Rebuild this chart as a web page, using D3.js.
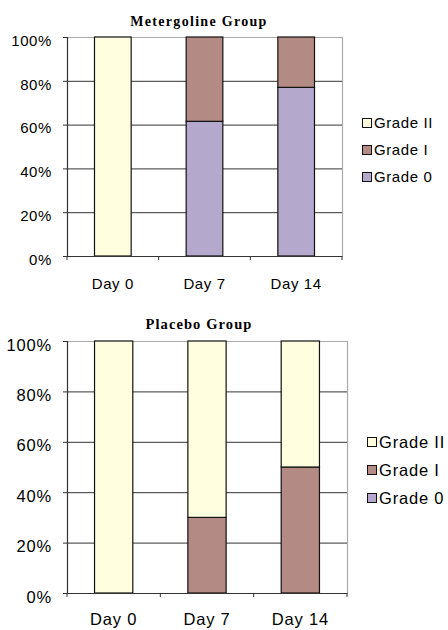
<!DOCTYPE html>
<html>
<head>
<meta charset="utf-8">
<script src="https://cdn.jsdelivr.net/npm/d3@7"></script>
<style>
  body { margin: 0; background: #fff; }
  .lbl { font-family: "Liberation Sans", Arial, sans-serif; fill: #000; }
  .ttl { font-family: "Liberation Serif", "Times New Roman", serif; font-weight: bold; }
</style>
</head>
<body>
<svg id="chart" width="448" height="630"></svg>
<script>
// data
var days = ["Day 0", "Day 7", "Day 14"];
var grades = ["Grade 0", "Grade I", "Grade II"];
var gradeColors = ["#b4a9cd", "#b38b84", "#ffffe0"];
var yTicks = [0, 20, 40, 60, 80, 100];

// percent of patients per grade, per day
var meterGrade0 = [0, 61.5, 77];
var meterGrade1 = [0, 38.5, 23];
var meterGrade2 = [100, 0, 0];

var placeboGrade0 = [0, 0, 0];
var placeboGrade1 = [0, 30, 50];
var placeboGrade2 = [100, 70, 50];

var svg = d3.select("#chart");
var color = d3.scaleOrdinal().domain(grades).range(gradeColors);

function drawChart(opt) {
  var g = svg.append("g");
  var rows = days.map(function(d, i) {
    return { day: d, "Grade 0": opt.s0[i], "Grade I": opt.s1[i], "Grade II": opt.s2[i] };
  });
  var stack = d3.stack().keys(grades)(rows);

  var x = d3.scaleBand().domain(days).range([opt.left, opt.right]).padding(0);
  var y = d3.scaleLinear().domain([0, 100]).range([opt.bottom, opt.top]);
  var bw = x.bandwidth() * opt.barFrac;

  // gridlines
  g.selectAll(".grid").data(yTicks.slice(1, -1)).enter().append("line")
    .attr("x1", opt.left).attr("x2", opt.right)
    .attr("y1", function(d) { return y(d) + 0.5; })
    .attr("y2", function(d) { return y(d) + 0.5; })
    .attr("stroke", "#333").attr("stroke-width", 1);

  // top + right frame
  g.append("path")
    .attr("d", "M" + opt.left + "," + (opt.top + 0.5) + "H" + (opt.right + 0.5) + "V" + opt.bottom)
    .attr("fill", "none").attr("stroke", "#aaa").attr("stroke-width", 1.2);

  // bars
  g.selectAll(".layer").data(stack).enter().append("g")
    .attr("fill", function(d) { return color(d.key); })
    .selectAll("rect").data(function(d) { return d; }).enter().append("rect")
    .filter(function(d) { return d[1] - d[0] > 0; })
    .attr("x", function(d) { return x(d.data.day) + (x.bandwidth() - bw) / 2; })
    .attr("y", function(d) { return y(d[1]); })
    .attr("width", bw)
    .attr("height", function(d) { return y(d[0]) - y(d[1]); })
    .attr("stroke", "#111").attr("stroke-width", 1.2);

  // y axis
  var ya = g.append("g").attr("transform", "translate(" + opt.left + ",0)")
    .call(d3.axisLeft(y).tickValues(yTicks).tickSize(4).tickPadding(11)
      .tickFormat(function(d) { return d + "%"; }));
  ya.select(".domain").attr("stroke", "#333").attr("stroke-width", 1.2);
  ya.selectAll(".tick line").attr("stroke", "#333");
  ya.selectAll("text").attr("class", "lbl").style("font-size", opt.fs + "px")
    .style("letter-spacing", opt.ls + "px").attr("dy", opt.yDy);

  // x axis
  var xa = g.append("g").attr("transform", "translate(0," + opt.bottom + ")")
    .call(d3.axisBottom(x).tickSize(0).tickPadding(opt.xPad));
  xa.select(".domain").attr("stroke", "#333").attr("stroke-width", 1.2);
  xa.selectAll("text").attr("class", "lbl").style("font-size", opt.fs + "px")
    .style("letter-spacing", opt.ls + "px");
  var edges = days.map(function(d) { return x(d); }).concat([opt.right]);
  xa.selectAll(".edge").data(edges).enter().append("line")
    .attr("x1", function(d) { return d; }).attr("x2", function(d) { return d; })
    .attr("y1", 0).attr("y2", 4).attr("stroke", "#333");

  // title
  g.append("text").attr("class", "ttl")
    .attr("x", opt.titleX).attr("y", opt.titleY)
    .attr("text-anchor", "middle").style("font-size", opt.tfs + "px")
    .style("letter-spacing", opt.tls + "px")
    .text(opt.title);

  // legend
  var leg = g.selectAll(".leg").data(grades.slice().reverse()).enter().append("g")
    .attr("transform", function(d, i) {
      return "translate(" + opt.legX + "," + (opt.legY + i * opt.legStep) + ")";
    });
  leg.append("rect").attr("x", 0.5).attr("y", -opt.sq / 2).attr("width", opt.sq).attr("height", opt.sq)
    .attr("fill", function(d) { return color(d); }).attr("stroke", "#111");
  leg.append("text").attr("class", "lbl").attr("x", opt.sq + 3).attr("y", 0)
    .attr("dy", "0.36em").style("font-size", opt.fs + "px")
    .style("letter-spacing", opt.ls + "px").text(function(d) { return d; });
}

drawChart({
  title: "Metergoline Group", s0: meterGrade0, s1: meterGrade1, s2: meterGrade2,
  left: 67, right: 342, top: 37, bottom: 256, barFrac: 0.4,
  fs: 15, ls: 0.6, tfs: 14, tls: 1.3, titleX: 199, titleY: 26, yDy: "0.55em", xPad: 22,
  legX: 362, legY: 123, legStep: 27, sq: 9
});

drawChart({
  title: "Placebo Group", s0: placeboGrade0, s1: placeboGrade1, s2: placeboGrade2,
  left: 67, right: 347, top: 341, bottom: 593, barFrac: 0.41,
  fs: 16.5, ls: 0.8, tfs: 14.5, tls: 1.1, titleX: 199, titleY: 329, yDy: "0.55em", xPad: 20,
  legX: 367, legY: 442, legStep: 28, sq: 9
});
</script>
</body>
</html>
